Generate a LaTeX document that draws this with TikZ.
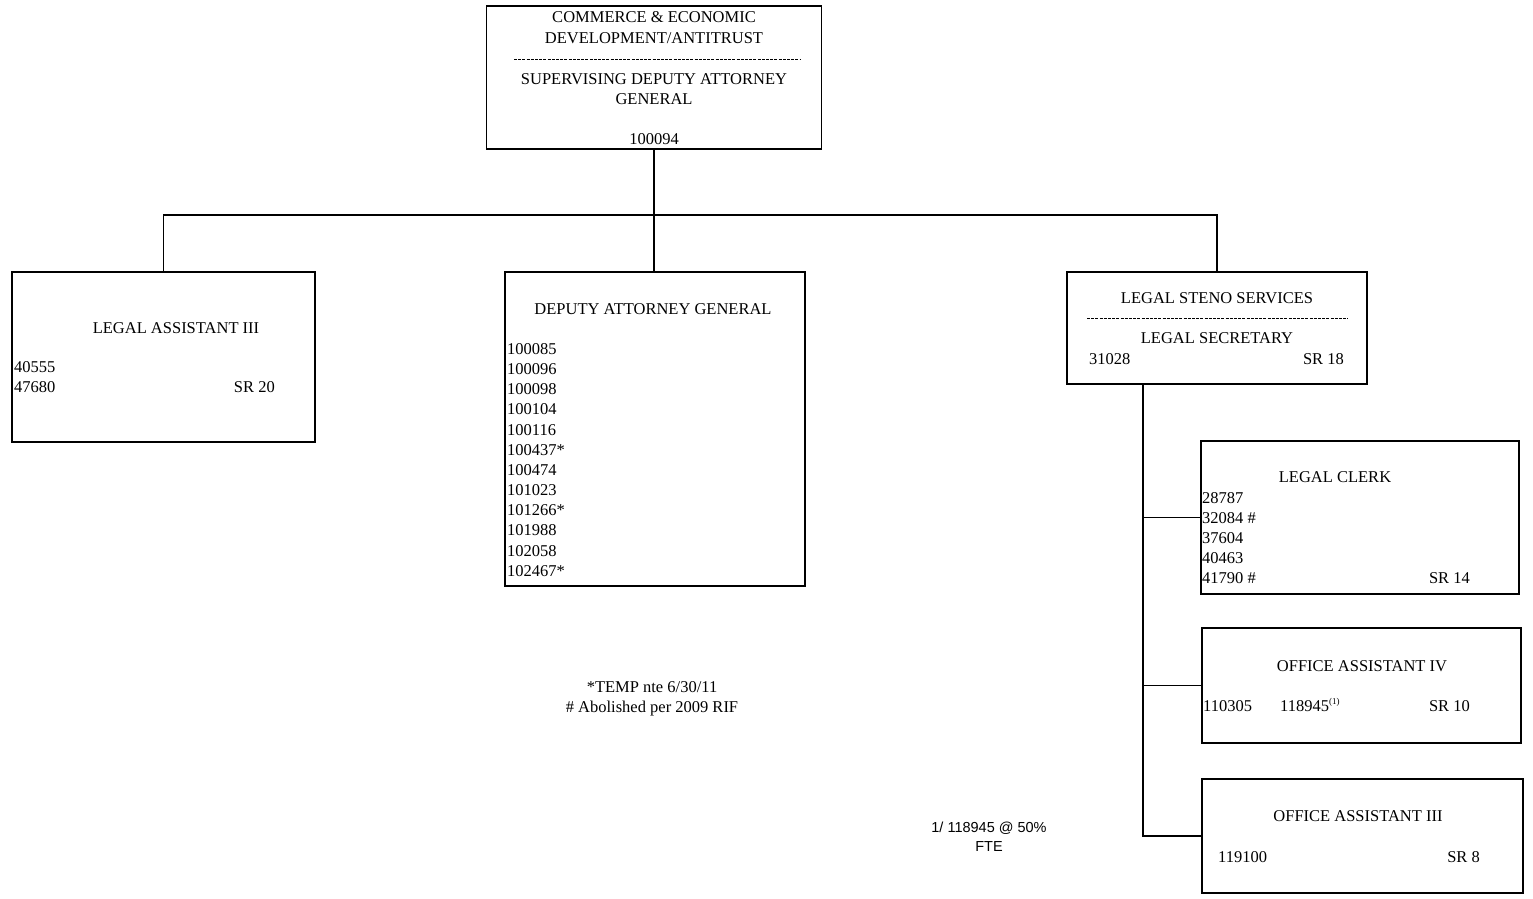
\documentclass[tikz,border=0pt]{standalone}
\usepackage{fontspec}
\setmainfont{Liberation Serif}
\newfontfamily\notefont{Liberation Sans}
\begin{document}
\begin{tikzpicture}[x=1pt,y=-1pt,
 box/.style={draw, line width=1.5pt, inner sep=0pt, outer sep=0pt},
 txt/.style={inner sep=0pt, anchor=base, font=\fontsize{16.5}{20}\selectfont},
 ltxt/.style={txt, anchor=base west},
 rtxt/.style={txt, anchor=base east},
 note/.style={inner sep=0pt, anchor=base, font=\notefont\fontsize{14.5}{18}\selectfont},
 conn/.style={line width=1.3pt},
 sepline/.style={line width=1pt, dash pattern=on 3pt off 1.2pt}]
\useasboundingbox (0,0) rectangle (1533,898);

% boxes
\node[box, minimum width=335pt, minimum height=143pt] (top) at (654,77.5) {};
\node[box, minimum width=303pt, minimum height=170pt] (la) at (163.5,357) {};
\node[box, minimum width=300pt, minimum height=314pt] (dag) at (655,429) {};
\node[box, minimum width=300pt, minimum height=112pt] (steno) at (1217,328) {};
\node[box, minimum width=318pt, minimum height=153pt] (lc) at (1360,517.5) {};
\node[box, minimum width=319pt, minimum height=115pt] (oa4) at (1361.5,685.5) {};
\node[box, minimum width=321pt, minimum height=114pt] (oa3) at (1362.5,836) {};

% connectors
\coordinate (j) at (654,215);
\draw[conn] (top.south) -- (top.south |- dag.north);
\draw[conn] (la.north) |- (j) -| (steno.north);
\coordinate (sp) at (1143,384);
\draw[conn] (sp) |- (oa3.west);
\draw[conn] (sp |- lc.west) -- (lc.west);
\draw[conn] (sp |- oa4.west) -- (oa4.west);

% top box texts
\node[txt] (t1) at (654,22) {COMMERCE \& ECONOMIC};
\node[txt] (t2) at (654,43) {DEVELOPMENT/ANTITRUST};
\draw[sepline] (514,59) -- (800,59);
\node[txt] (t3) at (654,84) {SUPERVISING DEPUTY ATTORNEY};
\node[txt] (t4) at (654,104) {GENERAL};
\node[txt] (t5) at (654,144) {100094};

% legal assistant
\node[txt] (la1) at (176,333) {LEGAL ASSISTANT III};
\node[ltxt] (la2) at (14,372) {40555};
\node[ltxt] (la3) at (14,392) {47680};
\node[rtxt] (la4) at (275,392) {SR 20};

% deputy attorney general
\node[txt] (d0) at (653,314) {DEPUTY ATTORNEY GENERAL};
\foreach \n [count=\i] in {100085,100096,100098,100104,100116,100437*,100474,101023,101266*,101988,102058,102467*}
  \node[ltxt] (d\i) at (507,{354.5+20.15*(\i-1)}) {\n};

% legal steno
\node[txt] (s1) at (1217,303) {LEGAL STENO SERVICES};
\draw[sepline] (1087,318) -- (1348,318);
\node[txt] (s2) at (1217,343) {LEGAL SECRETARY};
\node[ltxt] (s3) at (1089,364) {31028};
\node[rtxt] (s4) at (1344,364) {SR 18};

% legal clerk
\node[txt] (c0) at (1335,482) {LEGAL CLERK};
\foreach \n [count=\i] in {28787,32084 \#,37604,40463,41790 \#}
  \node[ltxt] (c\i) at (1202,{503+20*(\i-1)}) {\n};
\node[rtxt] (c6) at (1470,583) {SR 14};

% office assistant IV
\node[txt] (o1) at (1362,671) {OFFICE ASSISTANT IV};
\node[ltxt] (o2) at (1203,711) {110305};
\node[ltxt] (o3) at (1280,711) {118945\textsuperscript{\fontsize{9}{10}\selectfont(1)}};
\node[rtxt] (o4) at (1470,711) {SR 10};

% office assistant III
\node[txt] (p1) at (1358,821) {OFFICE ASSISTANT III};
\node[ltxt] (p2) at (1218,862) {119100};
\node[rtxt] (p3) at (1480,862) {SR 8};

% notes
\node[txt] (n1) at (652,692) {*TEMP nte 6/30/11};
\node[txt] (n2) at (652,712) {\# Abolished per 2009 RIF};
\node[note] (f1) at (989,832) {1/ 118945 @ 50\%};
\node[note] (f2) at (989,851) {FTE};
\end{tikzpicture}
\end{document}
